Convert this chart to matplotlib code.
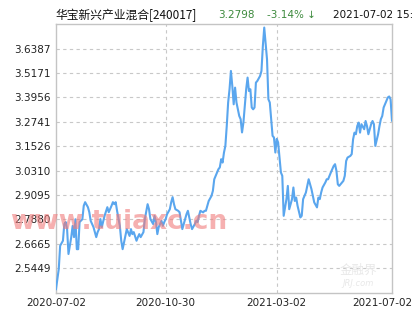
import matplotlib
matplotlib.use("Agg")
from matplotlib import pyplot as plt
from matplotlib.transforms import ScaledTranslation

plt.rcParams['font.family'] = ['Noto Sans CJK SC', 'DejaVu Sans']

# trading-day index and net value
day = [0, 2, 3, 5, 6, 7, 8, 9, 11, 12, 13, 14, 15, 16, 17, 19, 20, 21, 23, 24,
       25, 27, 29, 30, 31, 32, 33, 35, 37, 38, 40, 41, 42, 43, 44, 46, 47, 48, 50, 51,
       53, 54, 55, 56, 58, 59, 60, 61, 63, 64, 66, 67, 68, 70, 71, 72, 73, 74, 76, 77,
       78, 79, 80, 82, 83, 84, 85, 86, 88, 89, 90, 91, 92, 94, 95, 96, 97, 98, 100, 101,
       102, 103, 104, 106, 107, 108, 109, 110, 112, 113, 114, 116, 117, 118, 119, 120, 121, 122, 123, 124,
       125, 126, 127, 128, 129, 130, 132, 133, 134, 135, 136, 137, 138, 139, 140, 141, 142, 143, 144, 145,
       147, 148, 149, 150, 151, 152, 153, 154, 155, 156, 157, 158, 159, 160, 162, 163, 164, 166, 167, 168,
       170, 171, 172, 173, 174, 176, 177, 178, 179, 180, 182, 183, 184, 185, 186, 188, 189, 190, 191, 192,
       194, 195, 196, 197, 198, 200, 201, 202, 203, 204, 206, 207, 208, 209, 210, 212, 213, 214, 215, 216,
       217, 218, 219, 220, 222, 223, 224, 225, 227, 228, 229, 230, 232, 233, 234, 235, 236, 237, 238, 239,
       240, 241, 242]
nav = [2.441, 2.541, 2.657, 2.682, 2.765, 2.775, 2.740, 2.616, 2.700, 2.756, 2.700, 2.789, 2.640, 2.640, 2.775, 2.789, 2.856, 2.874, 2.849, 2.824,
       2.781, 2.750, 2.700, 2.725, 2.740, 2.790, 2.750, 2.806, 2.849, 2.824, 2.856, 2.874, 2.864, 2.874, 2.831, 2.756, 2.682, 2.640, 2.706, 2.740,
       2.706, 2.740, 2.715, 2.725, 2.682, 2.700, 2.715, 2.700, 2.725, 2.790, 2.864, 2.839, 2.790, 2.765, 2.806, 2.775, 2.715, 2.750, 2.781, 2.756,
       2.775, 2.790, 2.814, 2.839, 2.874, 2.899, 2.864, 2.839, 2.831, 2.824, 2.781, 2.740, 2.765, 2.814, 2.831, 2.798, 2.765, 2.740, 2.765, 2.781,
       2.775, 2.806, 2.831, 2.823, 2.831, 2.831, 2.856, 2.880, 2.905, 2.930, 2.988, 3.022, 3.038, 3.047, 3.088, 3.071, 3.121, 3.154, 3.253, 3.370,
       3.436, 3.527, 3.452, 3.361, 3.444, 3.370, 3.303, 3.287, 3.221, 3.270, 3.353, 3.436, 3.494, 3.427, 3.436, 3.345, 3.336, 3.345, 3.469, 3.477,
       3.502, 3.527, 3.651, 3.743, 3.667, 3.585, 3.386, 3.370, 3.287, 3.204, 3.196, 3.121, 3.189, 3.171, 3.022, 3.005, 2.806, 2.889, 2.955, 2.839,
       2.889, 2.947, 2.880, 2.897, 2.856, 2.798, 2.806, 2.889, 2.905, 2.922, 2.988, 2.963, 2.939, 2.905, 2.873, 2.848, 2.897, 2.889, 2.922, 2.947,
       2.972, 2.988, 2.988, 3.005, 3.022, 3.054, 3.063, 3.030, 2.963, 2.955, 2.972, 2.980, 3.005, 3.079, 3.096, 3.104, 3.113, 3.187, 3.220, 3.212,
       3.253, 3.270, 3.220, 3.262, 3.237, 3.278, 3.253, 3.212, 3.262, 3.278, 3.262, 3.154, 3.212, 3.253, 3.287, 3.303, 3.345, 3.361, 3.378, 3.395,
       3.400, 3.386, 3.2798]

y_ticks = [2.5449, 2.6665, 2.7880, 2.9095, 3.0310, 3.1526, 3.2741, 3.3956, 3.5171, 3.6387]
x_tick_pos = [0, 79, 159, 242]
x_tick_labels = ["2020-07-02", "2020-10-30", "2021-03-02", "2021-07-02"]

fig = plt.figure(figsize=(4.15, 3.30), dpi=100)
ax = fig.add_axes([0.1349, 0.113, 0.8096, 0.814])

ax.plot(day, nav, color="#5aa6ee", linewidth=1.5, zorder=3)

ax.set_xlim(0, 242)
ax.set_ylim(2.4234, 3.7602)
ax.set_yticks(y_ticks)
ax.set_yticklabels([f"{v:.4f}" for v in y_ticks])
ax.set_xticks(x_tick_pos)
ax.set_xticklabels(x_tick_labels)
ax.tick_params(length=0, labelsize=7.5, pad=4, colors="#222222")
for lab in ax.get_xticklabels() + ax.get_yticklabels():
    lab.set_family("DejaVu Sans")
# last date label sits a bit left of the right edge
last = ax.get_xticklabels()[-1]
last.set_transform(last.get_transform() + ScaledTranslation(-0.1, 0, fig.dpi_scale_trans))

ax.grid(axis="y", color="#c8c8c8", linestyle=(0, (3, 3)), linewidth=0.8)
for p in x_tick_pos[1:3]:
    ax.axvline(p, color="#c8c8c8", linestyle=(0, (3, 3)), linewidth=0.8, zorder=1)
for s in ax.spines.values():
    s.set_color("#c4c4c4")
    s.set_linewidth(1.0)

# header line
fig.text(55/415, 1-15/330, "华宝新兴产业混合[240017]", fontsize=8.5, va="center", color="#111111")
fig.text(218/415, 1-15/330, "3.2798", fontsize=7.5, va="center", color="#3d8a3d", family="DejaVu Sans")
fig.text(267/415, 1-15/330, "-3.14% ↓", fontsize=7.5, va="center", color="#3d8a3d", family="DejaVu Sans")
fig.text(333/415, 1-15/330, "2021-07-02 15:", fontsize=7.5, va="center", color="#111111", family="DejaVu Sans")

# watermarks
fig.text(10/415, 1-222/330, "www.tuiaxc.cn", fontsize=19, fontweight="bold", color="#f07c7c",
         alpha=0.6, va="center", family="DejaVu Sans", zorder=5)
fig.text(358/415, 1-270/330, "金融界", fontsize=9, color="#e8e8e8", ha="center", va="center", zorder=5)
fig.text(358/415, 1-283/330, "JRJ.com", fontsize=6, color="#e8e8e8", ha="center", va="center",
         fontstyle="italic", family="DejaVu Sans", zorder=5)

fig.savefig("out.png", dpi=100)
